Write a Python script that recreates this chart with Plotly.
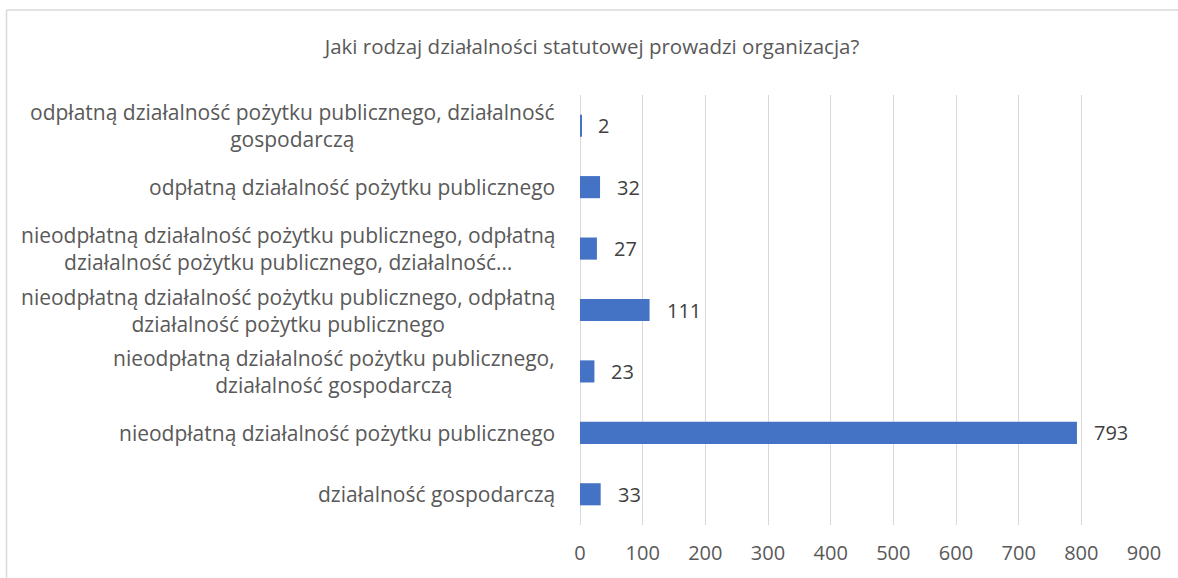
import plotly.graph_objects as go

categories = [
    "działalność gospodarczą",
    "nieodpłatną działalność pożytku publicznego",
    "nieodpłatną działalność pożytku publicznego,<br>działalność gospodarczą",
    "nieodpłatną działalność pożytku publicznego, odpłatną<br>działalność pożytku publicznego",
    "nieodpłatną działalność pożytku publicznego, odpłatną<br>działalność pożytku publicznego, działalność…",
    "odpłatną działalność pożytku publicznego",
    "odpłatną działalność pożytku publicznego, działalność<br>gospodarczą",
]
values = [33, 793, 23, 111, 27, 32, 2]
x_ticks = [0, 100, 200, 300, 400, 500, 600, 700, 800, 900]
title = "Jaki rodzaj działalności statutowej prowadzi organizacja?"

FONT = "Open Sans"
BAR = "#4472C4"
GREY = "#595959"
DARK = "#404040"

L, R, T, B = 580, 34, 95, 53
PW = 1178 - L - R
PH = 578 - T - B

fig = go.Figure(go.Bar(
    x=values, y=categories, orientation="h",
    marker=dict(color=BAR, line=dict(width=0)),
    width=0.36,
))

annotations = []
for c, v in zip(categories, values):
    annotations.append(dict(
        x=0, y=c, xref="paper", yref="y", text=c, showarrow=False,
        xanchor="right", yanchor="middle", align="center", xshift=-23,
        font=dict(family=FONT, size=21, color=GREY),
    ))
    annotations.append(dict(
        x=v, y=c, xref="x", yref="y", text=str(v), showarrow=False,
        xanchor="left", yanchor="middle", xshift=15,
        font=dict(family=FONT, size=20, color=DARK),
    ))

fig.update_layout(
    width=1178, height=578,
    margin=dict(l=L, r=R, t=T, b=B),
    paper_bgcolor="white", plot_bgcolor="white",
    showlegend=False,
    title=dict(text=title, x=592/1178, xanchor="center", y=1 - 47/578, yanchor="middle",
               font=dict(family=FONT, size=20.5, color=GREY)),
    xaxis=dict(range=[0, 900], tickvals=x_ticks, showgrid=True, gridcolor="#D9D9D9",
               gridwidth=1, zeroline=True, zerolinecolor="#D9D9D9", zerolinewidth=1,
               showline=False, ticks="outside", ticklen=10, tickcolor="rgba(0,0,0,0)",
               tickfont=dict(family=FONT, size=20, color=GREY), fixedrange=True),
    yaxis=dict(categoryorder="array", categoryarray=categories, showticklabels=False,
               showgrid=False, zeroline=False, showline=False, range=[-0.5, 6.5],
               fixedrange=True),
    annotations=annotations,
    shapes=[
        dict(type="line", xref="paper", yref="paper", x0=(6.5 - L) / PW, x1=1.2,
             y0=1 + (T - 10) / PH, y1=1 + (T - 10) / PH, line=dict(color="#D9D9D9", width=1.5)),
        dict(type="line", xref="paper", yref="paper", x0=(6.5 - L) / PW, x1=(6.5 - L) / PW,
             y0=1 + (T - 10) / PH, y1=-0.3, line=dict(color="#D9D9D9", width=1.5)),
    ],
)

fig.write_html("out.html", config={"displayModeBar": False},
               post_script="document.body.style.margin='0';")
